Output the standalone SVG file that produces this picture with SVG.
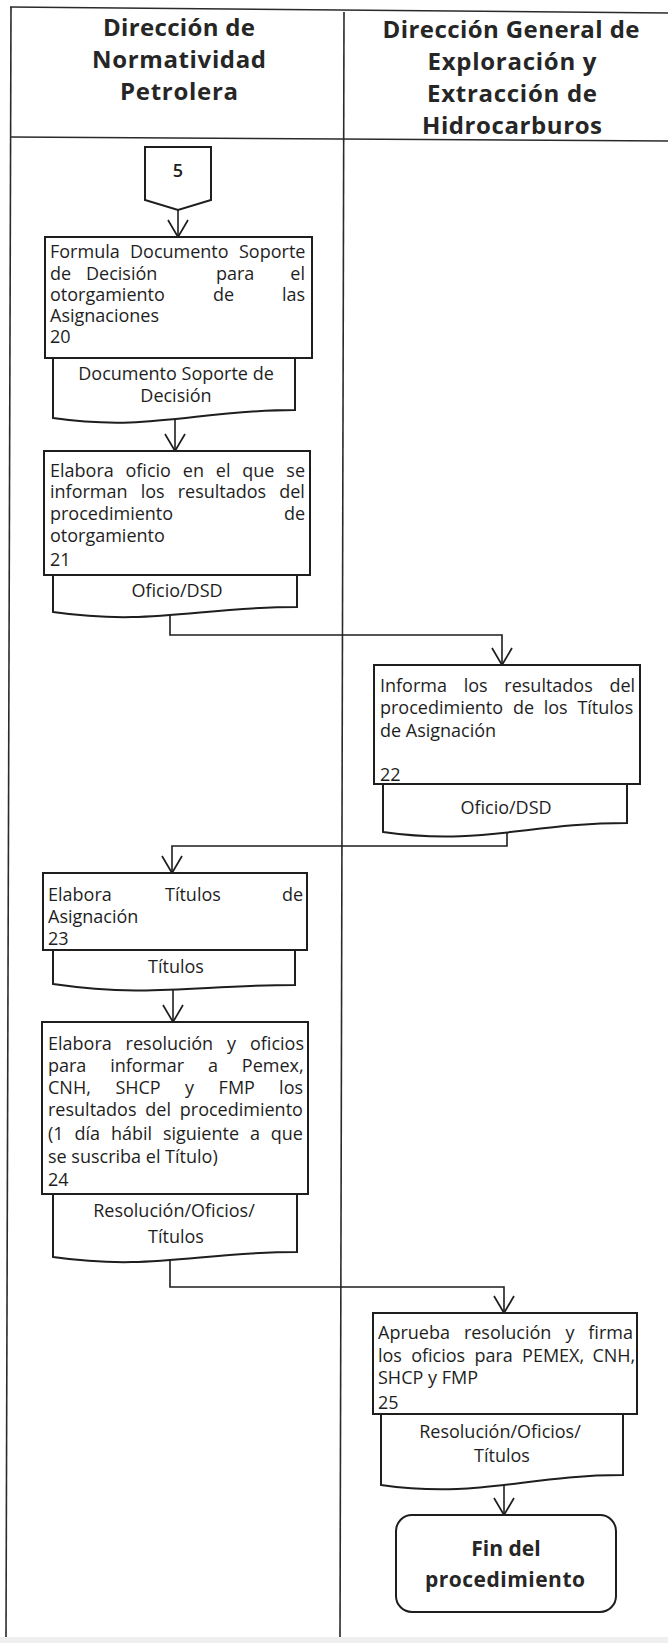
<svg xmlns="http://www.w3.org/2000/svg" width="668" height="1643" viewBox="0 0 668 1643">
<style>
.t{font-family:"Open Sans","Liberation Sans",sans-serif;font-size:18px;fill:#1e1e1e}
.h{font-family:"Open Sans","Liberation Sans",sans-serif;font-size:24px;font-weight:700;fill:#262626;text-anchor:middle}
.fin{font-family:"Open Sans","Liberation Sans",sans-serif;font-size:21px;font-weight:700;fill:#262626;text-anchor:middle}
.c{text-anchor:middle}
.box{fill:#fff;stroke:#1e1e1e;stroke-width:2}
.doc{fill:#fff;stroke:#1e1e1e;stroke-width:2}
.grid{stroke:#2a2a2a;stroke-width:1.6;fill:none}
.con{fill:none;stroke:#1e1e1e;stroke-width:1.6}
</style>
<defs>
<marker id="arr" markerUnits="userSpaceOnUse" markerWidth="26" markerHeight="26" viewBox="-20 -13 24 26" refX="0" refY="0" orient="auto">
<path d="M-17,-10 L0,0 L-17,10" fill="none" stroke="#1e1e1e" stroke-width="1.7"/>
</marker>
</defs>
<rect width="668" height="1643" fill="#fff"/>
<rect x="0" y="1637" width="668" height="6" fill="#efefef"/>
<g id="table">
<line class="grid" x1="10" y1="7" x2="668" y2="13"/>
<line class="grid" x1="11" y1="137" x2="668" y2="141"/>
<line class="grid" x1="11" y1="7" x2="6" y2="1637"/>
<line class="grid" x1="344" y1="12" x2="340" y2="1637"/>
</g>
<g id="lane-headers">
<text class="h" x="179" y="36" textLength="152" lengthAdjust="spacing">Dirección de</text>
<text class="h" x="179" y="68" textLength="174" lengthAdjust="spacing">Normatividad</text>
<text class="h" x="179" y="100" textLength="118" lengthAdjust="spacing">Petrolera</text>
<text class="h" x="511" y="38" textLength="257" lengthAdjust="spacing">Dirección General de</text>
<text class="h" x="512" y="70" textLength="169" lengthAdjust="spacing">Exploración y</text>
<text class="h" x="512" y="102" textLength="170" lengthAdjust="spacing">Extracción de</text>
<text class="h" x="512" y="134" textLength="180" lengthAdjust="spacing">Hidrocarburos</text>
</g>
<g id="connectors">
<line class="con" x1="178" y1="210" x2="178" y2="237" marker-end="url(#arr)"/>
<line class="con" x1="175" y1="420" x2="175" y2="451" marker-end="url(#arr)"/>
<polyline class="con" points="170,615 170,635 502,635 502,665" marker-end="url(#arr)"/>
<polyline class="con" points="507,832 507,846 172,846 172,873" marker-end="url(#arr)"/>
<line class="con" x1="173" y1="988" x2="173" y2="1022" marker-end="url(#arr)"/>
<polyline class="con" points="170,1259 170,1287 504,1287 504,1313" marker-end="url(#arr)"/>
<line class="con" x1="504" y1="1485" x2="504" y2="1515" marker-end="url(#arr)"/>
</g>
<g id="n5">
<polygon class="box" points="145,147 211,147 211,200 178,210 145,200"/>
<text class="t c" x="178" y="177" font-weight="600">5</text>
</g>
<g id="n20">
<rect class="box" x="45" y="237" width="267" height="121"/>
<text class="t" y="258"><tspan x="50">Formula</tspan><tspan x="130">Documento</tspan><tspan x="239">Soporte</tspan></text>
<text class="t" y="280"><tspan x="50">de</tspan><tspan x="86">Decisión</tspan><tspan x="216">para</tspan><tspan x="290.3">el</tspan></text>
<text class="t" y="301"><tspan x="50">otorgamiento</tspan><tspan x="212.9">de</tspan><tspan x="281.9">las</tspan></text>
<text class="t" x="50" y="322">Asignaciones</text>
<text class="t" x="50" y="343">20</text>
</g>
<g id="d20">
<path class="doc" d="M53,358 H295 V410 C198,410 150,432 53,418 Z"/>
<text class="t c" x="176" y="380">Documento Soporte de</text>
<text class="t c" x="176" y="402">Decisión</text>
</g>
<g id="n21">
<rect class="box" x="44" y="451" width="266" height="124"/>
<text class="t" y="477"><tspan x="50">Elabora</tspan><tspan x="125.5">oficio</tspan><tspan x="182.8">en</tspan><tspan x="215.8">el</tspan><tspan x="242.3">que</tspan><tspan x="286.3">se</tspan></text>
<text class="t" y="498"><tspan x="50">informan</tspan><tspan x="140.7">los</tspan><tspan x="177.7">resultados</tspan><tspan x="279.2">del</tspan></text>
<text class="t" y="520"><tspan x="50">procedimiento</tspan><tspan x="284">de</tspan></text>
<text class="t" x="50" y="542">otorgamiento</text>
<text class="t" x="50" y="566">21</text>
</g>
<g id="d21">
<path class="doc" d="M53,575 H297 V607 C199,607 151,626 53,612 Z"/>
<text class="t c" x="177" y="597">Oficio/DSD</text>
</g>
<g id="n22">
<rect class="box" x="374" y="665" width="266" height="119"/>
<text class="t" y="692"><tspan x="380">Informa</tspan><tspan x="463.7">los</tspan><tspan x="504.3">resultados</tspan><tspan x="609.4">del</tspan></text>
<text class="t" y="714"><tspan x="380">procedimiento</tspan><tspan x="512.9">de</tspan><tspan x="543.7">los</tspan><tspan x="577.4">Títulos</tspan></text>
<text class="t" x="380" y="737">de Asignación</text>
<text class="t" x="380" y="781">22</text>
</g>
<g id="d22">
<path class="doc" d="M383,784 H627 V823 C529,823 481,846 383,832 Z"/>
<text class="t c" x="506" y="814">Oficio/DSD</text>
</g>
<g id="n23">
<rect class="box" x="43" y="873" width="264" height="77"/>
<text class="t" y="901"><tspan x="48">Elabora</tspan><tspan x="165">Títulos</tspan><tspan x="282">de</tspan></text>
<text class="t" x="48" y="923">Asignación</text>
<text class="t" x="48" y="945">23</text>
</g>
<g id="d23">
<path class="doc" d="M53,950 H295 V985 C198,985 150,998 53,984 Z"/>
<text class="t c" x="176" y="973">Títulos</text>
</g>
<g id="n24">
<rect class="box" x="42" y="1022" width="266" height="172"/>
<text class="t" y="1050"><tspan x="48">Elabora</tspan><tspan x="125.6">resolución</tspan><tspan x="227.1">y</tspan><tspan x="250">oficios</tspan></text>
<text class="t" y="1072"><tspan x="48">para</tspan><tspan x="110.2">informar</tspan><tspan x="208">a</tspan><tspan x="241.8">Pemex,</tspan></text>
<text class="t" y="1094"><tspan x="48">CNH,</tspan><tspan x="115.4">SHCP</tspan><tspan x="184.9">y</tspan><tspan x="218.6">FMP</tspan><tspan x="279.1">los</tspan></text>
<text class="t" y="1116"><tspan x="48">resultados</tspan><tspan x="145.3">del</tspan><tspan x="179.8">procedimiento</tspan></text>
<text class="t" y="1140"><tspan x="48">(1</tspan><tspan x="74.4">día</tspan><tspan x="110.9">hábil</tspan><tspan x="162.9">siguiente</tspan><tspan x="249.9">a</tspan><tspan x="270.8">que</tspan></text>
<text class="t" x="48" y="1163">se suscriba el Título)</text>
<text class="t" x="48" y="1186">24</text>
</g>
<g id="d24">
<path class="doc" d="M53,1194 H297 V1252 C199,1252 151,1271 53,1257 Z"/>
<text class="t c" x="174" y="1217">Resolución/Oficios/</text>
<text class="t c" x="176" y="1243">Títulos</text>
</g>
<g id="n25">
<rect class="box" x="373" y="1313" width="264" height="101"/>
<text class="t" y="1339"><tspan x="378">Aprueba</tspan><tspan x="463.9">resolución</tspan><tspan x="565.4">y</tspan><tspan x="588.3">firma</tspan></text>
<text class="t" y="1362"><tspan x="378">los</tspan><tspan x="411.2">oficios</tspan><tspan x="474.5">para</tspan><tspan x="522.1">PEMEX,</tspan><tspan x="592.4">CNH,</tspan></text>
<text class="t" x="378" y="1384">SHCP y FMP</text>
<text class="t" x="378" y="1409">25</text>
</g>
<g id="d25">
<path class="doc" d="M381,1414 H623 V1475 C526,1475 478,1499 381,1485 Z"/>
<text class="t c" x="500" y="1438">Resolución/Oficios/</text>
<text class="t c" x="502" y="1462">Títulos</text>
</g>
<g id="fin">
<rect class="box" x="396" y="1515" width="220" height="97" rx="16"/>
<text class="fin" x="506" y="1556">Fin del</text>
<text class="fin" x="505" y="1587" textLength="160" lengthAdjust="spacing">procedimiento</text>
</g>
</svg>
